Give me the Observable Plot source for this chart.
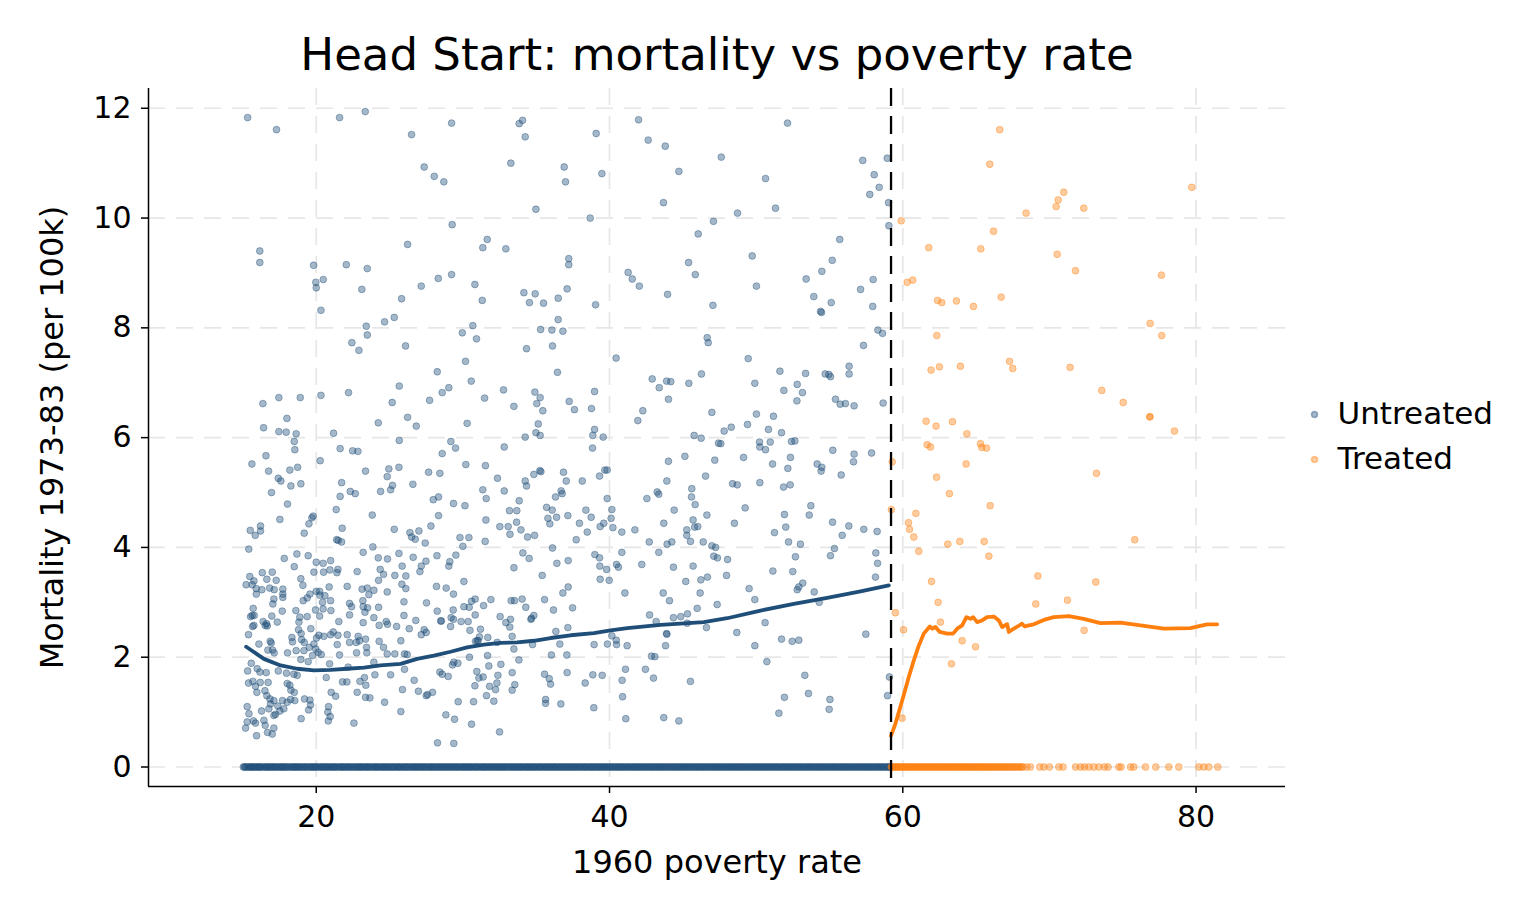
<!DOCTYPE html>
<html><head><meta charset="utf-8">
<script src="https://cdn.jsdelivr.net/npm/d3@7"></script>
<script src="https://cdn.jsdelivr.net/npm/@observablehq/plot@0.6"></script>
<style>body{margin:0;background:#fff;}#chart{width:1536px;height:921px;}</style>
</head><body><div id="chart"></div>
<script>
const title = "Head Start: mortality vs poverty rate";
const xLabel = "1960 poverty rate";
const yLabel = "Mortality 1973-83 (per 100k)";
const legendLabels = ["Untreated", "Treated"];
const xTicks = [20, 40, 60, 80];
const yTicks = [0, 2, 4, 6, 8, 10, 12];
const cutoff = 59.1984;

const untreatedPoints = [
[15.32,11.83],[17.29,11.61],[21.59,11.83],[23.34,11.94],[26.50,11.52],[29.23,11.73],[33.84,11.72],[34.07,11.78],[34.25,11.48],[27.36,10.93],[28.05,10.76],[28.70,10.66],[33.27,11.0],[36.91,10.93],[37.0,10.66],[34.98,10.16],[29.27,9.88],[16.15,9.40],[16.15,9.19],[26.23,9.52],[31.66,9.61],[31.36,9.46],[32.93,9.44],[37.22,9.26],[37.22,9.15],[19.82,9.14],[19.97,8.83],[20.0,8.73],[20.48,8.88],[22.05,9.15],[23.48,9.08],[23.11,8.70],[20.32,8.32],[25.82,8.53],[27.16,8.76],[28.32,8.90],[29.23,8.97],[30.82,8.79],[31.32,8.50],[34.16,8.64],[34.93,8.62],[34.54,8.46],[35.50,8.45],[36.5,8.54],[37.11,8.71],[23.41,8.03],[23.48,7.87],[24.66,8.11],[25.32,8.19],[30.68,8.04],[29.96,7.91],[36.5,8.15],[35.3,7.97],[36.07,7.96],[36.82,7.94],
[39.09,11.54],[41.98,11.79],[42.64,11.42],[43.80,11.31],[52.14,11.73],[39.48,10.81],[44.73,10.85],[47.62,11.11],[50.64,10.72],[57.27,11.05],[58.94,11.09],[58.05,10.79],[58.39,10.56],[57.75,10.43],[59.03,10.28],[43.68,10.28],[48.73,10.09],[51.32,10.18],[38.68,10.0],[47.09,9.94],[46.05,9.71],[59.05,9.86],[55.70,9.61],[41.27,9.01],[41.55,8.89],[42.03,8.76],[45.39,9.19],[45.85,8.97],[43.96,8.61],[49.73,9.31],[50.02,8.76],[47.05,8.41],[39.05,8.42],[53.41,8.89],[54.48,9.03],[55.19,9.23],[53.93,8.57],[55.12,8.46],[54.39,8.30],[54.46,8.28],[57.12,8.70],[57.98,8.88],[57.95,8.39],[58.30,7.96],[58.62,7.90],
[22.43,7.73],[22.91,7.59],[26.09,7.67],[30.93,7.80],[34.34,7.62],[36.11,7.67],[30.18,7.39],[28.25,7.20],[30.57,7.03],[36.45,7.19],[25.66,6.94],[29.04,6.91],[28.59,6.82],[22.20,6.82],[20.32,6.77],[17.45,6.73],[18.91,6.73],[16.36,6.62],[25.18,6.64],[27.73,6.68],[31.48,6.72],[32.77,6.87],[34.91,6.83],[35.27,6.73],[35.04,6.62],[35.45,6.49],[33.48,6.57],[37.25,6.66],[18.0,6.35],[26.23,6.37],[26.82,6.21],[24.23,6.27],[30.29,6.26],[35.14,6.25],[16.41,6.18],[17.45,6.11],[17.95,6.10],[18.63,6.07],[18.50,5.93],[18.54,5.78],[21.18,6.08],[25.66,5.95],[34.25,6.01],[34.98,6.09],[35.27,6.04],[29.18,5.93],[29.50,5.81],[21.63,5.80],[22.48,5.76],[22.84,5.75],[32.82,5.83],[28.59,5.71],[16.57,5.67],[15.61,5.52],[20.27,5.58],[16.75,5.39],[18.20,5.41],[18.73,5.46],[17.41,5.26],[17.59,5.21],[18.95,5.16],[18.27,5.12],[16.95,5.0],[23.36,5.39],[24.95,5.43],[24.84,5.29],[25.64,5.46],[25.20,5.13],[25.07,5.05],[26.59,5.15],[27.66,5.37],[28.43,5.35],[30.20,5.51],[31.54,5.49],[32.36,5.26],[34.25,5.21],[34.34,5.12],[34.84,5.33],[35.25,5.40],[35.32,5.38],[36.86,5.37],[37.05,5.21],[21.73,5.18],[22.32,5.02],[22.66,4.98],[21.63,4.93],[24.39,5.02],[27.98,4.87],[28.34,4.92],[29.36,4.80],[30.14,4.76],[31.36,5.05],[31.59,4.89],[32.82,5.03],[33.84,4.85],[36.32,4.92],[36.70,5.03],[36.77,4.98],[18.04,4.79],[19.79,4.57],[19.70,4.54],[19.50,4.43],[17.52,4.51],[16.20,4.39],[15.50,4.31],[15.84,4.22],[16.20,4.30],[19.18,4.26],[21.36,4.69],[23.82,4.59],[21.77,4.35],[21.39,4.14],[21.50,4.13],[21.73,4.10],[25.32,4.33],[26.39,4.27],[26.50,4.19],[26.75,4.15],[27.0,4.30],[27.43,4.08],[27.82,4.39],[28.34,4.58],[29.80,4.18],[30.41,4.18],[30.0,4.02],[31.52,4.11],[31.57,4.50],[33.18,4.67],[33.68,4.67],[32.52,4.38],[33.09,4.38],[33.66,4.46],[33.21,4.24],[33.96,4.32],[34.41,4.19],[34.89,4.22],[35.71,4.73],[36.09,4.68],[35.80,4.53],[35.93,4.43],[36.39,4.55],[37.16,4.58],[36.11,3.99],[15.40,3.97],[23.86,4.01],
[46.66,7.82],[46.73,7.73],[57.32,7.68],[40.45,7.45],[49.46,7.44],[51.62,7.21],[53.37,7.17],[54.71,7.16],[54.96,7.15],[55.07,7.11],[56.34,7.30],[56.34,7.16],[42.91,7.07],[43.39,6.91],[43.89,7.03],[44.18,7.02],[45.41,6.99],[46.27,7.16],[49.91,6.99],[51.89,6.86],[52.80,6.97],[53.16,6.82],[52.78,6.67],[55.41,6.70],[55.73,6.61],[56.09,6.62],[56.68,6.58],[58.66,6.63],[44.02,6.70],[38.98,6.84],[37.61,6.51],[38.77,6.53],[42.27,6.49],[41.93,6.31],[46.98,6.46],[50.02,6.43],[51.18,6.39],[50.84,6.15],[51.73,6.09],[48.30,6.19],[47.82,6.12],[49.41,6.24],[38.98,6.15],[38.86,6.04],[39.57,6.01],[38.84,5.81],[45.77,6.04],[46.25,5.99],[47.43,5.90],[47.59,5.89],[50.23,5.92],[50.25,5.83],[50.64,5.78],[50.96,5.92],[52.41,5.93],[52.64,5.94],[55.23,5.77],[56.68,5.70],[56.64,5.56],[57.87,5.72],[44.02,5.57],[45.14,5.66],[47.18,5.59],[49.14,5.64],[52.34,5.64],[52.16,5.44],[51.12,5.52],[54.16,5.52],[54.48,5.46],[54.43,5.39],[55.80,5.32],[38.14,5.21],[39.32,5.30],[39.68,5.41],[39.84,5.41],[43.91,5.21],[46.55,5.30],[48.39,5.16],[48.71,5.14],[50.25,5.18],[51.87,5.10],[52.32,5.14],[43.25,5.01],[43.36,4.97],[42.55,4.89],[45.61,5.07],[45.59,4.92],[45.84,4.78],[39.84,4.89],[40.16,4.69],[40.11,4.53],[39.61,4.44],[39.36,4.38],[38.39,4.68],[38.75,4.55],[37.95,4.44],[38.48,4.28],[37.73,4.14],[40.23,4.36],[40.84,4.28],[41.73,4.32],[44.41,4.68],[43.70,4.44],[45.70,4.50],[45.80,4.37],[46.02,4.38],[45.27,4.32],[45.27,4.22],[45.52,4.11],[46.64,4.59],[46.39,4.10],[42.71,4.10],[43.93,4.06],[44.25,4.10],[46.98,4.03],[47.23,4.0],[48.52,4.44],[49.25,4.72],[51.25,4.27],[51.93,4.60],[52.02,4.37],[52.21,4.10],[53.02,4.06],[53.73,4.76],[53.62,4.59],[55.21,4.46],[56.32,4.39],[55.87,4.22],[57.34,4.33],[58.25,4.29],[55.34,3.98],
[18.68,3.88],[19.45,3.85],[17.82,3.80],[18.50,3.65],[20.0,3.73],[20.47,3.71],[20.98,3.76],[19.84,3.55],[20.50,3.55],[20.93,3.59],[21.48,3.60],[21.41,3.54],[22.79,3.56],[23.20,3.91],[24.23,3.81],[24.86,3.79],[25.64,3.89],[24.36,3.60],[24.59,3.51],[25.36,3.49],[25.86,3.66],
[16.32,3.54],[17.0,3.55],[16.63,3.42],[17.27,3.40],[15.47,3.47],[15.75,3.39],[15.22,3.32],[15.63,3.32],[15.91,3.25],[15.91,3.15],[16.29,3.23],[16.82,3.26],[17.13,3.23],[17.72,3.24],[17.72,3.15],[17.72,3.09],[17.11,3.06],[17.04,2.97],[18.95,3.43],[19.09,3.31],[19.57,3.15],[20.0,3.20],[20.23,3.20],[20.25,3.13],[19.11,3.03],[19.38,3.08],[20.59,3.12],[20.88,3.28],[22.11,3.29],[23.13,3.24],[23.48,3.26],[23.93,3.22],[24.25,3.40],[23.59,3.14],[24.84,3.19],[25.84,3.33],
[15.70,2.89],[15.63,2.76],[15.77,2.76],[15.52,2.74],[15.75,2.58],[15.66,2.56],[16.52,2.58],[16.61,2.61],[16.66,2.57],[16.38,2.65],[16.97,2.75],[17.34,2.64],[17.68,2.84],[18.61,2.85],[18.82,2.64],[18.88,2.73],[19.38,2.74],[19.95,2.86],[20.47,2.88],[20.23,2.75],[20.43,3.0],[20.98,3.03],[21.0,2.85],[21.54,2.65],[22.27,2.98],[22.41,2.92],[22.27,2.77],[23.18,3.03],[23.20,2.92],[23.32,2.82],[23.50,2.90],[23.20,2.63],[23.93,2.72],[24.25,2.91],[24.29,2.58],[24.77,2.65],[24.86,2.60],[25.48,2.56],[25.98,3.01],[25.98,2.76],
[15.38,2.41],[16.09,2.24],[16.86,2.29],[16.93,2.26],[17.02,2.13],[17.13,2.08],[16.70,2.13],[18.34,2.36],[18.38,2.28],[18.79,2.50],[18.97,2.43],[19.63,2.52],[19.0,2.32],[19.18,2.27],[18.63,2.12],[19.16,2.12],[19.52,2.18],[19.84,2.24],[20.02,2.35],[20.18,2.40],[20.52,2.38],[19.97,2.15],[20.13,2.09],[20.34,2.05],[20.98,2.41],[21.16,2.46],[21.48,2.40],[21.43,2.23],[21.59,2.04],[22.11,2.41],[22.27,2.27],[22.86,2.38],[22.95,2.30],[22.73,2.27],[23.36,2.33],[23.43,2.18],[22.75,2.08],[23.45,2.08],[24.29,2.29],[24.59,2.18],[24.84,2.06],[25.36,2.06],[25.77,2.30],[26.02,2.06],[18.04,2.08],[19.45,1.92],[18.95,1.96],[19.75,2.03],
[15.32,1.75],[15.57,1.89],[15.97,1.79],[16.16,1.73],[16.59,1.72],[17.41,1.75],[17.97,1.71],[18.47,1.69],[18.70,1.67],[15.38,1.53],[15.68,1.56],[15.86,1.47],[16.18,1.54],[16.72,1.54],[15.95,1.36],[16.50,1.39],[16.63,1.30],[16.84,1.24],[17.11,1.21],[18.20,1.49],[18.27,1.40],[18.50,1.36],[18.02,1.52],[20.68,1.63],[21.02,1.36],[21.32,1.29],[21.79,1.55],[22.09,1.55],[22.79,1.36],[22.98,1.56],[23.29,1.63],[23.38,1.49],[23.36,1.27],[23.66,1.26],[24.0,1.68],[24.66,1.18],[25.07,1.68],[25.88,1.41],[20.91,1.88],[22.18,1.82],[23.93,1.91],
[16.88,1.15],[17.38,1.11],[17.52,1.02],[17.70,1.21],[18.02,1.18],[18.25,1.23],[18.54,1.21],[17.79,1.06],[16.77,1.06],[17.22,0.96],[15.29,1.10],[15.41,0.97],[16.27,1.02],[15.72,0.84],[15.86,0.80],[15.29,0.82],[15.18,0.71],[16.43,0.85],[16.52,0.76],[17.11,0.94],[16.68,0.63],[17.11,0.71],[17.0,0.60],[15.93,0.57],[19.57,1.22],[19.20,1.24],[19.61,1.13],[19.48,1.04],[18.97,0.88],[20.84,1.10],[20.79,1.0],[20.95,0.92],[20.82,0.84],[22.57,0.80],[25.77,1.01],
[26.61,3.82],[27.48,3.75],[27.16,3.66],[27.07,3.56],[28.23,3.85],[29.11,3.74],[29.04,3.66],[29.52,3.86],[34.09,3.90],[34.52,3.80],[36.41,3.71],[37.18,3.76],[33.48,3.63],[35.41,3.49],[26.11,3.48],[26.11,3.25],[28.20,3.29],[28.86,3.26],[29.36,3.15],[30.07,3.38],[27.52,2.99],[28.25,2.84],[29.34,2.86],[30.07,2.92],[30.43,2.91],[30.59,3.02],[30.84,3.06],[31.41,2.94],[31.91,3.05],[30.84,2.77],[28.48,2.66],[28.54,2.66],[29.20,2.72],[29.36,2.69],[29.16,2.56],[29.88,2.65],[30.36,2.65],[26.79,2.67],[26.34,2.52],[27.36,2.50],[27.16,2.41],[27.50,2.45],[30.48,2.49],[31.20,2.51],[31.13,2.37],[31.70,2.36],[30.86,2.29],[30.98,2.30],[31.04,2.30],[32.54,2.74],[32.93,2.63],[33.25,2.69],[33.20,2.55],[33.29,3.03],[33.52,3.03],[34.04,3.06],[34.29,2.91],[33.36,2.38],[34.68,2.71],[34.84,2.76],[34.64,2.69],[35.57,3.05],[36.18,2.86],[36.82,3.17],[37.18,3.28],[36.34,2.47],[37.16,2.54],[36.61,2.24],[32.34,2.27],[33.48,2.15],[34.75,2.23],[36.04,2.04],[37.09,2.04],[26.20,2.05],[26.02,1.78],[26.68,1.58],[26.97,1.38],[27.50,1.30],[27.59,1.32],[27.93,1.36],[28.43,1.73],[28.59,1.69],[29.0,1.65],[29.38,1.91],[29.66,1.89],[29.29,1.86],[30.45,2.0],[31.68,2.03],[31.77,1.84],[32.59,1.87],[30.95,1.74],[31.09,1.62],[31.38,1.64],[30.82,1.48],[30.73,1.19],[29.68,1.19],[31.82,1.47],[32.23,1.41],[32.32,1.53],[32.39,1.67],[32.11,1.20],[31.61,1.30],[33.36,1.72],[33.54,1.50],[33.36,1.40],[33.82,1.95],[35.57,1.69],[35.89,1.61],[35.98,1.51],[35.64,1.23],[35.64,1.16],[36.68,1.15],[37.11,1.72],[28.84,0.95],[29.43,0.87],[30.59,0.78],[32.50,0.64],[28.27,0.44],[29.38,0.43],
[39.0,3.87],[39.32,3.81],[39.34,3.66],[39.80,3.60],[40.48,3.69],[40.61,3.64],[40.84,3.91],[39.36,3.42],[39.98,3.40],[42.20,3.69],[43.36,3.91],[44.36,3.64],[45.70,3.66],[47.11,3.84],[47.36,3.81],[48.05,3.78],[47.98,3.49],[46.68,3.46],[46.23,3.41],[45.20,3.38],[52.68,3.83],[51.14,3.57],[52.50,3.56],[55.07,3.85],[58.16,3.90],[58.28,3.71],[58.14,3.46],[53.18,3.35],[52.91,3.28],[52.80,3.23],[53.96,3.19],[54.30,3.0],[49.52,3.25],[49.91,3.05],[47.34,2.96],[45.98,2.89],[46.18,3.17],[43.66,3.17],[44.09,3.03],[41.05,3.17],[37.48,2.90],[42.73,2.77],[43.18,2.65],[44.36,2.72],[44.86,2.74],[45.32,2.79],[45.30,2.62],[46.61,2.54],[48.68,2.45],[50.61,2.63],[40.16,2.39],[40.46,2.31],[40.48,2.23],[39.86,2.24],[38.95,2.23],[41.20,2.21],[43.89,2.43],[43.91,2.42],[43.82,2.21],[49.91,2.21],[51.73,2.33],[52.46,2.29],[52.91,2.31],[57.48,2.42],[42.86,2.02],[43.09,2.01],[50.73,1.92],[38.86,1.68],[39.50,1.67],[38.34,1.53],[41.09,1.78],[40.86,1.58],[42.45,1.78],[43.0,1.62],[45.52,1.56],[53.32,1.67],[59.09,1.64],[40.89,1.28],[38.93,1.08],[41.11,0.88],[43.70,0.90],[44.73,0.84],[51.93,1.27],[53.57,1.34],[55.03,1.23],[54.98,1.05],[51.55,0.98],[58.96,1.30]
];

const treatedPoints = [
[66.61,11.61],[65.93,10.98],[79.71,10.56],[70.98,10.47],[70.60,10.33],[70.46,10.21],[72.34,10.18],[68.41,10.09],[59.89,9.95],[66.19,9.76],[61.77,9.46],[65.32,9.44],[70.53,9.34],[71.78,9.04],[77.64,8.96],[60.30,8.83],[60.68,8.87],[62.37,8.50],[62.66,8.46],[63.66,8.49],[64.82,8.39],[66.71,8.56],[76.87,8.08],[62.32,7.86],[77.66,7.86],
[59.28,5.56],[59.22,4.69],
[61.93,7.23],[62.50,7.29],[63.93,7.30],[67.28,7.39],[67.50,7.26],[71.41,7.28],[73.57,6.86],[75.03,6.64],[76.84,6.38],[76.86,6.38],[78.53,6.12],[61.59,6.30],[62.27,6.21],[63.39,6.29],[64.37,6.07],[61.66,5.87],[61.89,5.83],[65.30,5.89],[65.39,5.82],[65.71,5.81],[64.32,5.52],[62.30,5.28],[73.21,5.35],[63.18,4.98],[65.96,4.76],[60.89,4.62],[60.39,4.45],[60.46,4.33],[60.75,4.19],[63.07,4.06],[63.89,4.11],[65.55,4.11],[61.09,3.93],[65.87,3.84],[75.82,4.14],[61.96,3.38],[69.21,3.48],[73.16,3.37],[62.41,3.0],[69.07,2.97],[71.23,3.04],[59.50,2.81],
[60.05,2.50],[62.57,2.64],[64.05,2.30],[64.96,2.19],[63.32,1.88],[72.37,2.49],[59.96,0.89]
];

const untreatedZeroX = [15.03,15.18,15.4,15.55,15.71,15.9,16.08,16.2,16.43,16.6,16.77,16.95,17.12,17.3,17.51,17.66,17.84,18.0,18.22,18.41,18.57,18.75,18.93,19.14,19.3,19.52,19.7,19.88,20.05,20.27,20.44,20.63,20.8,21.0,21.19,21.35,21.58,21.76,21.93,22.14,22.3,22.52,22.71,22.9,23.06,23.27,23.45,23.62,23.84,24.02,24.2,24.41,24.58,24.77,24.95,25.16,25.33,25.54,25.7,25.91,26.1,26.27,26.48,26.66,26.85,27.02,27.23,27.4,27.61,27.8,27.97,28.18,28.36,28.55,28.74,28.92,29.13,29.3,29.51,29.68,29.9,30.07,30.26,30.45,30.62,30.84,31.01,31.22,31.4,31.58,31.79,31.96,32.17,32.35,32.54,32.73,32.91,33.12,33.3,33.5,33.67,33.88,34.05,34.26,34.44,34.63,34.82,35.0,35.21,35.38,35.6,35.77,35.96,36.16,36.33,36.55,36.72,36.93,37.1,37.3,37.49,37.67,37.88,38.06,38.27,38.44,38.65,38.83,39.02,39.22,39.4,39.61,39.78,40.0,40.18,40.39,40.57,40.77,40.95,41.16,41.34,41.55,41.73,41.94,42.12,42.33,42.51,42.72,42.9,43.11,43.3,43.5,43.68,43.89,44.08,44.28,44.47,44.67,44.86,45.06,45.25,45.45,45.64,45.85,46.03,46.24,46.43,46.63,46.82,47.03,47.21,47.42,47.6,47.81,48.0,48.2,48.39,48.6,48.78,48.99,49.18,49.38,49.57,49.78,49.96,50.17,50.36,50.56,50.75,50.96,51.15,51.35,51.54,51.75,51.94,52.14,52.33,52.54,52.73,52.93,53.12,53.33,53.52,53.72,53.91,54.12,54.31,54.51,54.7,54.91,55.1,55.3,55.49,55.7,55.89,56.09,56.28,56.49,56.68,56.88,57.07,57.28,57.47,57.67,57.86,58.07,58.26,58.46,58.65,58.86,59.05,59.17];
const untreatedZeroX2 = [15.1,15.29,15.47,15.63,15.8,15.99,16.14,16.31,16.52,16.69,16.86,17.04,17.21,17.4,17.58,17.75,17.92,18.11,18.31,18.49,18.66,18.84,19.03,19.22,19.41,19.61,19.79,19.96,20.16,20.35,20.53,20.71,20.9,21.09,21.27,21.46,21.67,21.84,22.03,22.22,22.41,22.61,22.8,22.98,23.16,23.36,23.53,23.73,23.93,24.11,24.3,24.5,24.67,24.86,25.05,25.24,25.44,25.62,25.8,26.0,26.18,26.37,26.57,26.75,26.93,27.12,27.31,27.5,27.7,27.88,28.07,28.27,28.45,28.64,28.83,29.02,29.21,29.4,29.59,29.79,29.98,30.16,30.35,30.53,30.73,30.92,31.11,31.31,31.49,31.68,31.87,32.06,32.26,32.44,32.63,32.82,33.01,33.21,33.4,33.58,33.77,33.96,34.15,34.35,34.53,34.72,34.91,35.1,35.29,35.49,35.68,35.86,36.06,36.25,36.44,36.63,36.82,37.01,37.2,37.39,37.58,37.77,37.97,38.16,38.35,38.54,38.74,38.92,39.12,39.31,39.5,39.69,39.89,40.09,40.28,40.48,40.67,40.86,41.05,41.25,41.44,41.64,41.83,42.03,42.22,42.42,42.61,42.81,43.0,43.2,43.4,43.59,43.78,43.98,44.18,44.37,44.57,44.76,44.96,45.15,45.35,45.54,45.74,45.94,46.13,46.33,46.52,46.72,46.92,47.12,47.31,47.51,47.7,47.9,48.1,48.29,48.49,48.69,48.88,49.08,49.28,49.47,49.67,49.87,50.06,50.26,50.46,50.65,50.85,51.05,51.25,51.44,51.64,51.84,52.04,52.23,52.43,52.63,52.83,53.02,53.22,53.42,53.62,53.81,54.01,54.21,54.41,54.6,54.8,55.0,55.2,55.39,55.59,55.79,55.99,56.18,56.38,56.58,56.78,56.97,57.17,57.37,57.57,57.76,57.96,58.16,58.36,58.55,58.75,58.95,59.11];

const treatedZeroX = [59.21,59.35,59.52,59.68,59.83,60.01,60.17,60.34,60.5,60.68,60.85,61.0,61.19,61.36,61.52,61.7,61.87,62.03,62.22,62.38,62.56,62.73,62.9,63.08,63.25,63.43,63.6,63.78,63.96,64.14,64.31,64.5,64.68,64.86,65.05,65.22,65.4,65.6,65.78,65.97,66.15,66.35,66.55,66.75,66.95,67.15,67.35,67.57,67.78,68.0,68.2,68.45,68.71,69.34,69.62,70.0,70.64,70.93,71.78,72.12,72.39,72.69,73.03,73.37,73.75,74.0,74.73,74.89,75.53,75.75,76.55,77.25,78.14,78.82,80.19,80.53,80.87,81.48];
const treatedZeroX2 = [59.28,59.44,59.6,59.75,59.92,60.09,60.25,60.42,60.59,60.77,60.93,61.1,61.27,61.44,61.61,61.78,61.95,62.12,62.3,62.47,62.64,62.81,62.99,63.16,63.34,63.51,63.69,63.87,64.05,64.22,64.4,64.59,64.77,64.95,65.13,65.31,65.5,65.69,65.88,66.06,66.25,66.45,66.65,66.85,67.05,67.25,67.46,67.67,67.89,68.1];

const untreatedFitX = [15.22,16.43,17.57,18.70,19.84,20.98,22.11,23.25,24.38,25.75,26.88,28.02,29.16,30.29,31.43,32.57,33.70,34.84,35.98,37.34,38.93,40.07,41.21,43.48,46.43,48.02,50.30,52.57,54.84,57.12,59.05];
const untreatedFitY = [2.19,1.97,1.85,1.79,1.76,1.77,1.79,1.81,1.85,1.88,1.97,2.03,2.10,2.18,2.23,2.26,2.27,2.30,2.35,2.40,2.44,2.49,2.53,2.59,2.64,2.71,2.85,2.97,3.08,3.20,3.31];
const treatedFitX = [59.20,59.50,59.96,60.41,60.75,61.09,61.43,61.84,62.0,62.23,62.52,63.03,63.43,63.71,64.05,64.34,64.62,64.80,65.07,65.41,65.75,66.21,66.55,66.78,67.12,67.23,67.57,68.14,68.32,68.59,68.93,69.62,70.30,71.32,72.34,73.48,74.84,76.21,77.80,79.62,80.75,81.44];
const treatedFitY = [0.57,0.79,1.21,1.64,1.94,2.21,2.43,2.56,2.52,2.55,2.46,2.43,2.43,2.52,2.58,2.73,2.70,2.73,2.64,2.67,2.73,2.74,2.67,2.55,2.60,2.46,2.52,2.61,2.56,2.58,2.60,2.68,2.73,2.75,2.70,2.62,2.63,2.58,2.52,2.53,2.60,2.60];

const xDomain = [8.56, 86.1];
const yDomain = [-0.355, 12.36];
const NAVY = "#1f4e79";
const ORANGE = "#ff7f0e";
const GRID = "#e6e6e6";

const dotsU = untreatedPoints.map(([x, y]) => ({x, y}))
  .concat(untreatedZeroX.map(x => ({x, y: 0})), untreatedZeroX2.map(x => ({x, y: 0})));
const dotsT = treatedPoints.map(([x, y]) => ({x, y}))
  .concat(treatedZeroX.map(x => ({x, y: 0})), treatedZeroX2.map(x => ({x, y: 0})));
const fitU = untreatedFitX.map((x, i) => ({x, y: untreatedFitY[i]}));
const fitT = treatedFitX.map((x, i) => ({x, y: treatedFitY[i]}));

const dotStyle = c => ({x: "x", y: "y", r: 3.4, fill: c, fillOpacity: 0.4, stroke: c, strokeOpacity: 0.4, strokeWidth: 1});

const chart = Plot.plot({
  width: 1536, height: 921,
  marginLeft: 148, marginRight: 251, marginTop: 88, marginBottom: 135,
  style: {fontFamily: "DejaVu Sans", background: "#fff", color: "#000"},
  x: {domain: xDomain},
  y: {domain: yDomain},
  marks: [
    Plot.gridY(yTicks, {stroke: GRID, strokeOpacity: 1, strokeWidth: 1.7, strokeDasharray: "17,11"}),
    Plot.gridX(xTicks, {stroke: GRID, strokeOpacity: 1, strokeWidth: 1.7, strokeDasharray: "17,11"}),
    Plot.dot(dotsU, dotStyle(NAVY)),
    Plot.dot(dotsT, dotStyle(ORANGE)),
    Plot.line(fitU, {x: "x", y: "y", stroke: NAVY, strokeWidth: 3.8}),
    Plot.line(fitT, {x: "x", y: "y", stroke: ORANGE, strokeWidth: 3.8}),
    Plot.ruleX([cutoff], {stroke: "#000", strokeWidth: 2.3, strokeDasharray: "18,10"}),
    Plot.ruleX([xDomain[0]], {stroke: "#000", strokeWidth: 1.5}),
    Plot.ruleY([yDomain[0]], {stroke: "#000", strokeWidth: 1.5}),
    Plot.axisX({ticks: xTicks, tickSize: 7, tickPadding: 12, fontSize: 30, label: null, strokeWidth: 1.5}),
    Plot.axisY({ticks: yTicks, tickSize: 7, tickPadding: 10, fontSize: 30, label: null, strokeWidth: 1.5}),
    Plot.text([title], {text: d => d, frameAnchor: "top", dy: -19, lineAnchor: "bottom", fontSize: 45, fill: "#000"}),
    Plot.text([xLabel], {text: d => d, frameAnchor: "bottom", dy: 86, lineAnchor: "bottom", fontSize: 32, fill: "#000"}),
    Plot.text([yLabel], {text: d => d, frameAnchor: "left", dx: -86, rotate: -90, textAnchor: "middle", lineAnchor: "bottom", fontSize: 32, fill: "#000"}),
    Plot.dot([legendLabels[0]], {frameAnchor: "right", dx: 29, dy: -23, r: 3, fill: NAVY, fillOpacity: 0.4, stroke: NAVY, strokeOpacity: 0.4}),
    Plot.dot([legendLabels[1]], {frameAnchor: "right", dx: 29, dy: 22, r: 3, fill: ORANGE, fillOpacity: 0.4, stroke: ORANGE, strokeOpacity: 0.4}),
    Plot.text([legendLabels[0]], {text: d => d, frameAnchor: "right", dx: 52, dy: -23, textAnchor: "start", lineAnchor: "middle", fontSize: 31, fill: "#000"}),
    Plot.text([legendLabels[1]], {text: d => d, frameAnchor: "right", dx: 52, dy: 22, textAnchor: "start", lineAnchor: "middle", fontSize: 31, fill: "#000"})
  ]
});
document.getElementById("chart").append(chart);
</script></body></html>
